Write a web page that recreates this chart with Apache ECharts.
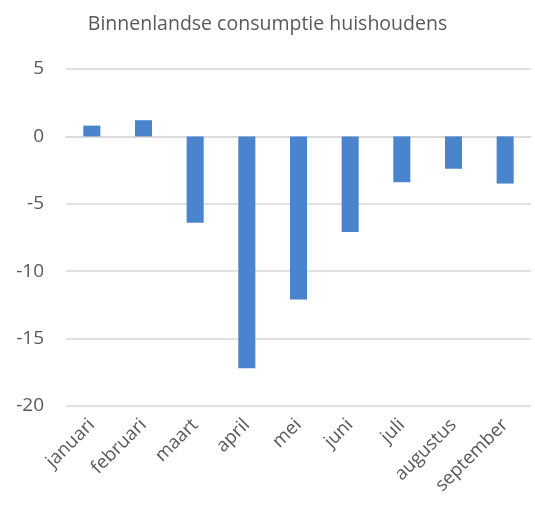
<!DOCTYPE html>
<html>
<head>
<meta charset="utf-8">
<script src="https://cdn.jsdelivr.net/npm/echarts@6/dist/echarts.min.js"></script>
<style>
html,body{margin:0;padding:0;background:#fff;}
#chart{width:535px;height:511px;}
</style>
</head>
<body>
<div id="chart"></div>
<script>
const categories = ['januari','februari','maart','april','mei','juni','juli','augustus','september'];
const values = [0.8, 1.2, -6.4, -17.2, -12.1, -7.1, -3.4, -2.4, -3.5];
const titleText = 'Binnenlandse consumptie huishoudens';

const chart = echarts.init(document.getElementById('chart'), null, {renderer:'canvas'});
chart.setOption({
  animation: false,
  backgroundColor: '#ffffff',
  title: {
    text: titleText,
    left: 'center',
    top: 9,
    textStyle: {fontFamily: 'Open Sans', fontSize: 19.5, fontWeight: 'normal', color: '#595959'}
  },
  grid: {left: 66, right: 4, top: 69, bottom: 105},
  xAxis: {
    type: 'category',
    data: categories,
    axisLine: {show: true, onZero: true, lineStyle: {color: '#d9d9d9', width: 1.5}},
    axisTick: {show: false},
    axisLabel: {
      interval: 0, rotate: 45, margin: 16,
      fontFamily: 'Open Sans', fontSize: 18.5, color: '#595959'
    }
  },
  yAxis: {
    type: 'value',
    min: -20, max: 5, interval: 5,
    axisLine: {show: false},
    axisTick: {show: false},
    axisLabel: {fontFamily: 'Open Sans', fontSize: 19, color: '#595959', margin: 22},
    splitLine: {lineStyle: {color: '#d9d9d9', width: 1.5}}
  },
  series: [{
    type: 'bar',
    data: values,
    barWidth: '33%',
    itemStyle: {color: '#4a84cc'}
  }]
});
</script>
</body>
</html>
